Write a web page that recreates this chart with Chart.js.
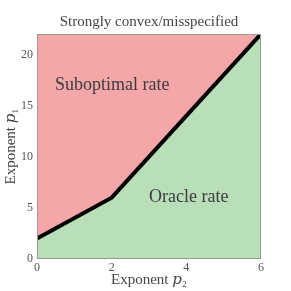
<!DOCTYPE html>
<html><head><meta charset="utf-8">
<script src="https://cdn.jsdelivr.net/npm/chart.js@4/dist/chart.umd.min.js"></script>
<style>html,body{margin:0;padding:0;background:#fff}#wrap{width:291px;height:291px}</style>
</head><body><div id="wrap"><canvas id="c" width="291" height="291"></canvas></div>
<script>
const boundaryP2 = [0, 2, 6];
const boundaryP1 = [2, 6, 22];
const xTicks = [0, 2, 4, 6];
const yTicks = [0, 5, 10, 15, 20];
const regionLabels = ["Suboptimal rate", "Oracle rate"];
const regionLabelX = [0.48, 3.0];
const regionLabelY = [17.0, 6.05];
const titleText = "Strongly convex/misspecified";
const xTitle = "Exponent \u{1D45D}\u2082";
const yTitle = "Exponent \u{1D45D}\u2081";

const RED = "rgb(244,166,168)";
const GREEN = "rgb(185,223,185)";
const FONT = "'Liberation Serif', 'DejaVu Serif', serif";

const bgPlugin = {
  id: 'bg',
  beforeDatasetsDraw(chart) {
    const {ctx, chartArea: a} = chart;
    ctx.save(); ctx.fillStyle = RED;
    ctx.fillRect(a.left, a.top, a.right - a.left, a.bottom - a.top);
    ctx.restore();
  },
  afterDatasetsDraw(chart) {
    const {ctx, chartArea: a, scales} = chart;
    ctx.save();
    ctx.fillStyle = '#3c3c3c';
    ctx.font = "18px " + FONT;
    ctx.textBaseline = 'middle'; ctx.textAlign = 'left';
    regionLabels.forEach((t, i) => {
      ctx.fillText(t, scales.x.getPixelForValue(regionLabelX[i]), scales.y.getPixelForValue(regionLabelY[i]));
    });
    ctx.strokeStyle = '#999'; ctx.lineWidth = 1;
    ctx.strokeRect(a.left + 0.5, a.top + 0.5, a.right - a.left - 1, a.bottom - a.top - 1);
    ctx.fillStyle = '#444';
    ctx.font = "15px " + FONT;
    ctx.textAlign = 'center';
    ctx.fillText(titleText, (a.left + a.right) / 2, 22);
    ctx.restore();
  }
};

new Chart(document.getElementById('c'), {
  type: 'line',
  data: {
    datasets: [{
      data: boundaryP2.map((x, i) => ({x, y: boundaryP1[i]})),
      borderColor: '#000', borderWidth: 4, pointRadius: 0,
      fill: 'origin', backgroundColor: GREEN, clip: 0, tension: 0
    }]
  },
  options: {
    responsive: false, animation: false, devicePixelRatio: 1,
    layout: {padding: {left: 0, right: 30, top: 34, bottom: 0}},
    plugins: {
      legend: {display: false}, tooltip: {enabled: false},
      title: {display: false}
    },
    scales: {
      x: {type: 'linear', min: 0, max: 6,
        grid: {display: false, drawTicks: false}, border: {display: false},
        afterBuildTicks: s => { s.ticks = xTicks.map(v => ({value: v})); },
        afterFit: s => { s.height = 32; },
        ticks: {color: '#555', font: {family: FONT, size: 12}, padding: 2, maxRotation: 0},
        title: {display: true, text: xTitle, color: '#444', font: {family: FONT, size: 15}, padding: {top: 0, bottom: 2}}
      },
      y: {type: 'linear', min: 0, max: 22,
        grid: {display: false, drawTicks: false}, border: {display: false},
        afterBuildTicks: s => { s.ticks = yTicks.map(v => ({value: v})); },
        afterFit: s => { s.width = 37; },
        ticks: {color: '#555', font: {family: FONT, size: 12}, padding: 4},
        title: {display: true, text: yTitle, color: '#444', font: {family: FONT, size: 15}, padding: {top: 2, bottom: 0}}
      }
    }
  },
  plugins: [bgPlugin]
});
</script></body></html>
